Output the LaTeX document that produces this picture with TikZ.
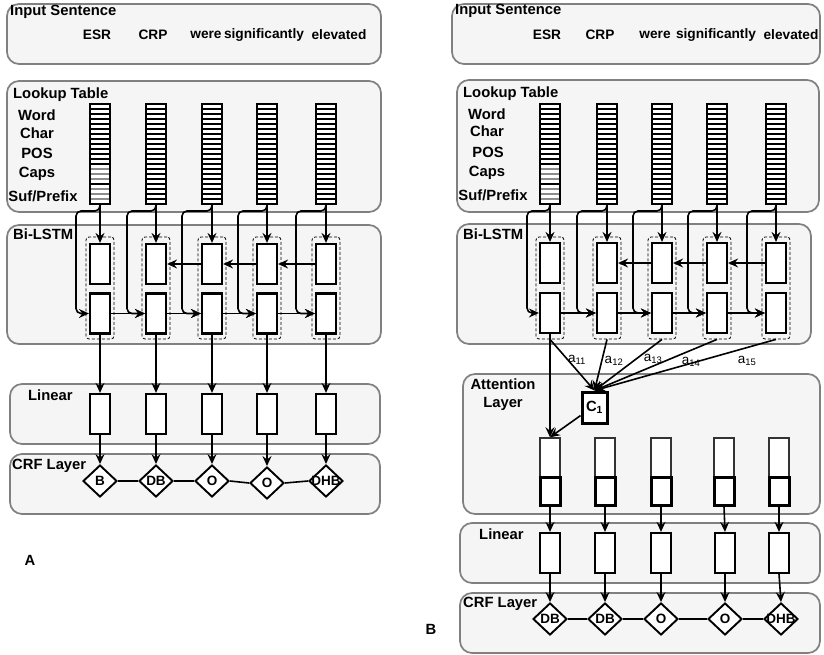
\documentclass[tikz,border=0pt]{standalone}
\usepackage{fontspec}
\setmainfont{Liberation Sans}
\usetikzlibrary{arrows.meta,shapes.geometric,calc}

\newcommand{\crftag}[1]{\makebox[0pt]{#1}}

\tikzset{
  layerbox/.style={draw=black!50, fill=black!4, line width=1.7pt, rounded corners=12pt},
  title/.style={anchor=west, inner sep=0pt},
  word/.style={font=\bfseries\fontsize{13.7}{15}\selectfont},
  cellbox/.style={draw, fill=white, line width=2.2pt, minimum width=20pt, minimum height=40pt, inner sep=0pt},
  dashbox/.style={draw, line width=0.8pt, dash pattern=on 3pt off 2pt, rounded corners=3pt, minimum width=28pt, minimum height=102pt, inner sep=0pt},
  stackbox/.style={draw, fill=white, line width=2pt, minimum width=20pt, minimum height=100pt, inner sep=0pt,
    path picture={
      \foreach \k in {1,...,19}{
        \ifnum\k>#1\relax\colorlet{rulecol}{black!45}\else\colorlet{rulecol}{black}\fi
        \draw[rulecol, line width=1.1pt] ($(path picture bounding box.north west)!\k/20!(path picture bounding box.south west)$) -- ($(path picture bounding box.north east)!\k/20!(path picture bounding box.south east)$);
      }
      \foreach \k in {4,8,12,16}
        \draw[line width=2pt] ($(path picture bounding box.north west)!\k/20!(path picture bounding box.south west)$) -- ($(path picture bounding box.north east)!\k/20!(path picture bounding box.south east)$);
    }},
  stackbox/.default=19,
  crfnode/.style={draw, diamond, fill=white, line width=1.9pt, minimum width=34pt, minimum height=32pt, inner sep=0pt, font=\bfseries\fontsize{13.5}{15}\selectfont},
  cbox/.style={draw, fill=white, line width=3pt, minimum width=25pt, minimum height=31pt, inner sep=0pt},
  attup/.style={draw=black!80, fill=white, line width=1.5pt, minimum width=20pt, minimum height=39pt, inner sep=0pt},
  attlow/.style={draw, fill=white, line width=3pt, minimum width=20pt, minimum height=28pt, inner sep=0pt},
  weight/.style={inner sep=0pt, font=\normalfont\fontsize{13.5}{15}\selectfont},
  arr/.style={-{Stealth[length=10pt,width=9pt,inset=3.5pt]}, line width=1.6pt},
  link/.style={line width=1.6pt}
}

\begin{document}
\begin{tikzpicture}[x=1pt,y=-1pt,font=\bfseries\fontsize{14.8}{17}\selectfont]
\useasboundingbox (0,0) rectangle (824,655);

%Panel A: layers
\draw[layerbox] (7,4) rectangle (381,64);
\draw[layerbox] (7,81) rectangle (381,212);
\draw[layerbox] (7,225) rectangle (381,344);
\draw[layerbox] (10,384) rectangle (380,444);
\draw[layerbox] (10,454) rectangle (380,514);

\node[title] (ainput) at (10,12) {Input Sentence};
\node[word] (aw1) at (97,35) {ESR};
\node[word] (aw2) at (153,35) {CRP};
\node[word] (aw3) at (206,35) {were};
\node[word] (aw4) at (264,35) {significantly};
\node[word] (aw5) at (339,35) {elevated};

\node[title] (alookup) at (13,95) {Lookup Table};
\node (af1) at (37,115) {Word};
\node (af2) at (37,133) {Char};
\node (af3) at (37,153) {POS};
\node (af4) at (37,174) {Caps};
\node (af5) at (43,196) {Suf/Prefix};
\node[stackbox=12] (as1) at (100,154) {};
\node[stackbox] (as2) at (156,154) {};
\node[stackbox] (as3) at (212,154) {};
\node[stackbox] (as4) at (267,154) {};
\node[stackbox] (as5) at (326,154) {};

\node[title] (abilstm) at (13,234) {Bi-LSTM};
\node[dashbox] (ad1) at (100,288) {};
\node[dashbox] (ad2) at (156,288) {};
\node[dashbox] (ad3) at (212,288) {};
\node[dashbox] (ad4) at (267,288) {};
\node[dashbox] (ad5) at (326,288) {};
\node[cellbox] (au1) at (100,264) {};
\node[cellbox] (au2) at (156,264) {};
\node[cellbox] (au3) at (212,264) {};
\node[cellbox] (au4) at (267,264) {};
\node[cellbox] (au5) at (326,264) {};
\node[cellbox] (al1) at (100,313.5) {};
\node[cellbox] (al2) at (156,313.5) {};
\node[cellbox] (al3) at (212,313.5) {};
\node[cellbox] (al4) at (267,313.5) {};
\node[cellbox] (al5) at (326,313.5) {};

\node[title] (alinear) at (28,395) {Linear};
\node[cellbox] (an1) at (100,414) {};
\node[cellbox] (an2) at (156,414) {};
\node[cellbox] (an3) at (212,414) {};
\node[cellbox] (an4) at (267,414) {};
\node[cellbox] (an5) at (326,414) {};

\node[title] (acrf) at (12,466) {CRF Layer};
\node[crfnode] (ac1) at (100,481) {\crftag{B}};
\node[crfnode] (ac2) at (156,481) {\crftag{DB}};
\node[crfnode] (ac3) at (212,481) {\crftag{O}};
\node[crfnode] (ac4) at (267,483) {\crftag{O}};
\node[crfnode] (ac5) at (326,481) {\crftag{DHB}};

\node (alabel) at (30,560) {A};

%Panel A: connectors
\draw[arr] (as1.south) -- (au1.north);
\draw[arr] (as2.south) -- (au2.north);
\draw[arr] (as3.south) -- (au3.north);
\draw[arr] (as4.south) -- (au4.north);
\draw[arr] (as5.south) -- (au5.north);
\draw[arr,rounded corners=5pt] (as1.south) |- ++(-24,6) |- (al1.west);
\draw[arr,rounded corners=5pt] (as2.south) |- ++(-29,6) |- (al2.west);
\draw[arr,rounded corners=5pt] (as3.south) |- ++(-30,6) |- (al3.west);
\draw[arr,rounded corners=5pt] (as4.south) |- ++(-29,6) |- (al4.west);
\draw[arr,rounded corners=5pt] (as5.south) |- ++(-30,6) |- (al5.west);
\draw[arr] (al1.east) -- (al2.west);
\draw[arr] (al2.east) -- (al3.west);
\draw[arr] (al3.east) -- (al4.west);
\draw[arr] (al4.east) -- (al5.west);
\draw[arr] (au5.west) -- (au4.east);
\draw[arr] (au4.west) -- (au3.east);
\draw[arr] (au3.west) -- (au2.east);
\draw[arr] (al1.south) -- (an1.north);
\draw[arr] (al2.south) -- (an2.north);
\draw[arr] (al3.south) -- (an3.north);
\draw[arr] (al4.south) -- (an4.north);
\draw[arr] (al5.south) -- (an5.north);
\draw[arr] (an1.south) -- (ac1.north);
\draw[arr] (an2.south) -- (ac2.north);
\draw[arr] (an3.south) -- (ac3.north);
\draw[arr] (an4.south) -- (ac4.north);
\draw[arr] (an5.south) -- (ac5.north);
\draw[link] (ac1.east) -- (ac2.west);
\draw[link] (ac2.east) -- (ac3.west);
\draw[link] (ac3.east) -- (ac4.west);
\draw[link] (ac4.east) -- (ac5.west);

%Panel B: layers
\draw[layerbox] (452,4) rectangle (820,64);
\draw[layerbox] (457,80) rectangle (819,212);
\draw[layerbox] (457,224) rectangle (811,344);
\draw[layerbox] (463,374) rectangle (820,514);
\draw[layerbox] (460,523) rectangle (820,583);
\draw[layerbox] (460,593) rectangle (820,653);

\node[title] (binput) at (455,11) {Input Sentence};
\node[word] (bw1) at (547,35) {ESR};
\node[word] (bw2) at (600,35) {CRP};
\node[word] (bw3) at (655,35) {were};
\node[word] (bw4) at (716,35) {significantly};
\node[word] (bw5) at (791,35) {elevated};

\node[title] (blookup) at (463,94) {Lookup Table};
\node (bf1) at (487,114) {Word};
\node (bf2) at (487,131) {Char};
\node (bf3) at (488,152) {POS};
\node (bf4) at (487,173) {Caps};
\node (bf5) at (493,195) {Suf/Prefix};
\node[stackbox=12] (bs1) at (550,154) {};
\node[stackbox] (bs2) at (607,154) {};
\node[stackbox] (bs3) at (662,154) {};
\node[stackbox] (bs4) at (717,154) {};
\node[stackbox] (bs5) at (776,154) {};

\node[title] (bbilstm) at (463,234) {Bi-LSTM};
\node[dashbox] (bd1) at (550,288) {};
\node[dashbox] (bd2) at (607,288) {};
\node[dashbox] (bd3) at (662,288) {};
\node[dashbox] (bd4) at (717,288) {};
\node[dashbox] (bd5) at (776,288) {};
\node[cellbox] (bu1) at (550,263) {};
\node[cellbox] (bu2) at (607,263) {};
\node[cellbox] (bu3) at (662,263) {};
\node[cellbox] (bu4) at (717,263) {};
\node[cellbox] (bu5) at (776,263) {};
\node[cellbox] (bl1) at (550,313) {};
\node[cellbox] (bl2) at (607,313) {};
\node[cellbox] (bl3) at (662,313) {};
\node[cellbox] (bl4) at (717,313) {};
\node[cellbox] (bl5) at (776,313) {};

\node[align=center, font=\bfseries\fontsize{14.8}{18}\selectfont] (battn) at (503,395) {Attention\\Layer};
\node[cbox] (bctx) at (594.5,407.5) {C\textsubscript{1}};
\node[attup] (bt1) at (550,457.5) {};
\node[attup] (bt2) at (605,457.5) {};
\node[attup] (bt3) at (661,457.5) {};
\node[attup] (bt4) at (724,457.5) {};
\node[attup] (bt5) at (779,457.5) {};
\node[attlow] (bb1) at (550,491) {};
\node[attlow] (bb2) at (605,491) {};
\node[attlow] (bb3) at (661,491) {};
\node[attlow] (bb4) at (724,491) {};
\node[attlow] (bb5) at (779,491) {};
\node[weight] (ba1) at (577,360) {a\textsubscript{11}};
\node[weight] (ba2) at (614,361) {a\textsubscript{12}};
\node[weight] (ba3) at (653,359) {a\textsubscript{13}};
\node[weight] (ba4) at (691,362) {a\textsubscript{14}};
\node[weight] (ba5) at (747,361) {a\textsubscript{15}};

\node[title] (blinear) at (479,534) {Linear};
\node[cellbox] (bn1) at (550,553) {};
\node[cellbox] (bn2) at (605,553) {};
\node[cellbox] (bn3) at (661,553) {};
\node[cellbox] (bn4) at (725,553) {};
\node[cellbox] (bn5) at (779,553) {};

\node[title] (bcrf) at (463,604) {CRF Layer};
\node[crfnode] (bc1) at (550,619) {\crftag{DB}};
\node[crfnode] (bc2) at (605,619) {\crftag{DB}};
\node[crfnode] (bc3) at (661,619) {\crftag{O}};
\node[crfnode] (bc4) at (725,619) {\crftag{O}};
\node[crfnode] (bc5) at (781,619) {\crftag{DHB}};

\node (blabel) at (431,629) {B};

%Panel B: connectors
\draw[arr] (bs1.south) -- (bu1.north);
\draw[arr] (bs2.south) -- (bu2.north);
\draw[arr] (bs3.south) -- (bu3.north);
\draw[arr] (bs4.south) -- (bu4.north);
\draw[arr] (bs5.south) -- (bu5.north);
\draw[arr,rounded corners=5pt] (bs1.south) |- ++(-23,6) |- (bl1.west);
\draw[arr,rounded corners=5pt] (bs2.south) |- ++(-30,6) |- (bl2.west);
\draw[arr,rounded corners=5pt] (bs3.south) |- ++(-29,6) |- (bl3.west);
\draw[arr,rounded corners=5pt] (bs4.south) |- ++(-29,6) |- (bl4.west);
\draw[arr,rounded corners=5pt] (bs5.south) |- ++(-29,6) |- (bl5.west);
\draw[arr] (bl1.east) -- (bl2.west);
\draw[arr] (bl2.east) -- (bl3.west);
\draw[arr] (bl3.east) -- (bl4.west);
\draw[arr] (bl4.east) -- (bl5.west);
\draw[arr] (bu5.west) -- (bu4.east);
\draw[arr] (bu4.west) -- (bu3.east);
\draw[arr] (bu3.west) -- (bu2.east);
\draw[arr] (bd1.south) -- (bctx.north);
\draw[arr] (bd2.south) -- (bctx.north);
\draw[arr] (bd3.south) -- (bctx.north);
\draw[arr] (bd4.south) -- (bctx.north);
\draw[arr] (bd5.south) -- (bctx.north);
\draw[arr] (bl1.south) -- (bt1.north);
\draw[arr] (bctx.210) -- (bt1.north);
\draw[arr] (bb1.south) -- (bn1.north);
\draw[arr] (bb2.south) -- (bn2.north);
\draw[arr] (bb3.south) -- (bn3.north);
\draw[arr] (bb4.south) -- (bn4.north);
\draw[arr] (bb5.south) -- (bn5.north);
\draw[arr] (bn1.south) -- (bc1.north);
\draw[arr] (bn2.south) -- (bc2.north);
\draw[arr] (bn3.south) -- (bc3.north);
\draw[arr] (bn4.south) -- (bc4.north);
\draw[arr] (bn5.south) -- (bc5.north);
\draw[link] (bc1.east) -- (bc2.west);
\draw[link] (bc2.east) -- (bc3.west);
\draw[link] (bc3.east) -- (bc4.west);
\draw[link] (bc4.east) -- (bc5.west);
\end{tikzpicture}
\end{document}
